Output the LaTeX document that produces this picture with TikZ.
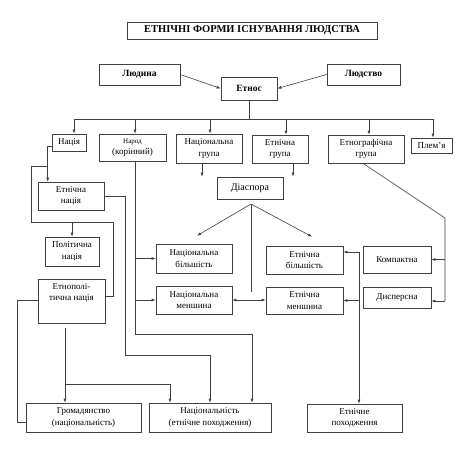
\documentclass[tikz,border=0pt]{standalone}
\usepackage{fontspec}
\setmainfont{Liberation Serif}
\usetikzlibrary{arrows.meta}
\begin{document}
\begin{tikzpicture}[x=1pt,y=-1pt,
 box/.style={draw=black!75, line width=0.6pt, align=center, inner sep=1pt, font=\fontsize{9}{11.5}\selectfont},
 bbox/.style={box, font=\bfseries\fontsize{9.5}{11}\selectfont},
 ln/.style={draw=black!75, line width=0.6pt},
 arr/.style={ln, -{Latex[length=4pt,width=3pt]}},
 darr/.style={ln, {Latex[length=4pt,width=3pt]}-{Latex[length=4pt,width=3pt]}}]
\useasboundingbox (0,0) rectangle (460,454);
\fill[white] (0,0) rectangle (460,454);
% nodes
\node[box, font=\bfseries\fontsize{10.5}{12}\selectfont, minimum width=250pt, minimum height=17pt] (title) at (252,30.5) {ЕТНІЧНІ ФОРМИ ІСНУВАННЯ ЛЮДСТВА};
\node[bbox, minimum width=81pt, minimum height=21pt] (lyud) at (139.5,74.5) {Людина};
\node[bbox, minimum width=73pt, minimum height=21pt] (lyudstvo) at (363.5,74.5) {Людство};
\node[bbox, minimum width=56pt, minimum height=23pt] (etnos) at (249,88.5) {Етнос};
\node[box, minimum width=34pt, minimum height=17pt] (natsiya) at (69,142.5) {Нація};
\node[box, minimum width=67pt, minimum height=27pt] (narod) at (132.5,147.5) {{\fontsize{7}{8}\selectfont Народ}\\(корінний)};
\node[box, minimum width=66pt, minimum height=29pt] (natgr) at (209,148.5) {Національна\\група};
\node[box, minimum width=56pt, minimum height=28pt] (etngr) at (280,149) {Етнічна\\група};
\node[box, minimum width=76pt, minimum height=28pt] (etnogr) at (366,149) {Етнографічна\\група};
\node[box, minimum width=41pt, minimum height=15pt] (plemya) at (431.5,145.5) {Плем’я};
\node[box, font=\fontsize{10}{12}\selectfont, minimum width=66pt, minimum height=22pt] (diaspora) at (250,188) {Діаспора};
\node[box, minimum width=76pt, minimum height=29pt] (natbil) at (194,258.5) {Національна\\більшість};
\node[box, minimum width=77pt, minimum height=28pt] (etnbil) at (304.5,260) {Етнічна\\більшість};
\node[box, minimum width=76pt, minimum height=28pt] (natmen) at (194,300) {Національна\\меншина};
\node[box, minimum width=77pt, minimum height=27pt] (etnmen) at (304.5,300.5) {Етнічна\\меншина};
\node[box, minimum width=68pt, minimum height=27pt] (kompakt) at (397,259.5) {Компактна};
\node[box, minimum width=68pt, minimum height=21pt] (dyspers) at (397,297.5) {Дисперсна};
\node[box, minimum width=66pt, minimum height=28pt] (etnnats) at (71,196) {Етнічна\\нація};
\node[box, minimum width=54pt, minimum height=29pt] (politnats) at (72,251.5) {Політична\\нація};
\node[box, minimum width=67pt, minimum height=44pt] (etnopol) at (71.5,301) {};
\node[font=\fontsize{9}{11.5}\selectfont, align=center, inner sep=0pt] (etnopoltext) at (71.5,293) {Етнополі-\\тична нація};
\node[box, minimum width=115pt, minimum height=29pt] (gromad) at (83.5,417.5) {Громадянство\\(національність)};
\node[box, minimum width=122pt, minimum height=29pt] (natsional) at (210,417.5) {Національність\\(етнічне походження)};
\node[box, minimum width=95pt, minimum height=28pt] (etnpoh) at (354.5,418) {Етнічне\\походження};
% top connectors
\draw[arr] (lyud.east) -- (etnos.west);
\draw[arr] (lyudstvo.west) -- (etnos.east);
\coordinate (busL) at (74,119);
\coordinate (busR) at (433,119);
\draw[ln] (etnos.south) -- (etnos.south |- busL);
\draw[ln] (busL) -- (busR);
\draw[arr] (busL) -- (busL |- natsiya.north);
\draw[arr] ([xshift=2.5pt]narod.north |- busL) -- ([xshift=2.5pt]narod.north);
\draw[arr] ([xshift=1pt]natgr.north |- busL) -- ([xshift=1pt]natgr.north);
\draw[arr] ([xshift=6pt]etngr.north |- busL) -- ([xshift=6pt]etngr.north);
\draw[arr] ([xshift=3pt]etnogr.north |- busL) -- ([xshift=3pt]etnogr.north);
\draw[arr] (busR) -- (busR |- plemya.north);
% to diaspora level
\draw[arr] ([xshift=-7pt]natgr.south) -- ([xshift=-7pt]natgr.south |- diaspora.north);
\draw[arr] ([xshift=13pt]etngr.south) -- ([xshift=13pt]etngr.south |- diaspora.north);
% diaspora branches
\coordinate (apex) at (251,204);
\coordinate (apexend) at (251,292);
\draw[arr] (apex) -- ([xshift=3pt,yshift=8pt]natbil.north);
\draw[arr] (apex) -- ([xshift=7.5pt,yshift=9pt]etnbil.north);
\draw[ln] (apex) -- (apexend);
\draw[darr] (natmen.east) -- (natmen.east -| etnmen.west);
% ethnographic group
\coordinate (eg1) at (445,218);
\coordinate (eg2) at (445,301);
\draw[ln] ([xshift=-3pt]etnogr.south) -- (eg1) -- (eg2);
\draw[arr] (kompakt.east -| eg1) -- (kompakt.east);
\draw[arr] (eg2) -- (eg2 -| dyspers.east);
% x=359 line
\coordinate (v3) at (359,252);
\draw[arr] (v3) -- (v3 -| etnbil.east);
\draw[arr] (v3) -- (v3 |- etnpoh.north);
\draw[arr] (v3 |- etnmen.east) -- (etnmen.east);
% natsiya branches
\coordinate (n48) at (48,166);
\coordinate (n31a) at (31,166);
\coordinate (n31b) at (31,222);
\coordinate (n113a) at (113,222);
\coordinate (n113b) at (113,296);
\draw[arr] ([yshift=-4pt]natsiya.west) -| ([xshift=10pt]etnnats.north west);
\draw[ln] (n48) -- (n31a) -- (n31b) -- (n113a) -- (n113b) -- (n113b -| etnopol.east);
\draw[arr] (politnats.north |- n31b) -- (politnats.north);
% ethnic nation to nationality
\coordinate (e125) at (125,355);
\draw[arr] (etnnats.east) -| (e125) -| (natsional.north);
% narod
\coordinate (n135) at (135,334);
\coordinate (n252) at (252,334);
\draw[ln] ([xshift=2.5pt]narod.south) -- (n135) -- (n252);
\draw[arr] (n252) -- (n252 |- natsional.north);
\draw[arr] (natbil.west -| n135) -- (natbil.west);
\draw[arr] (natmen.west -| n135) -- (natmen.west);
% ethnopolitical nation
\coordinate (p65a) at (65,328);
\coordinate (p65b) at (65,384);
\coordinate (p170) at (170,384);
\draw[arr] (p65a) -- (p65a |- gromad.north);
\draw[arr] (p65b) -- (p170) -- (p170 |- natsional.north);
\coordinate (l17a) at (17,300);
\coordinate (l17b) at (17,422);
\draw[ln] (l17a -| etnopol.west) -- (l17a) -- (l17b) -- (l17b -| gromad.west);
\end{tikzpicture}
\end{document}
